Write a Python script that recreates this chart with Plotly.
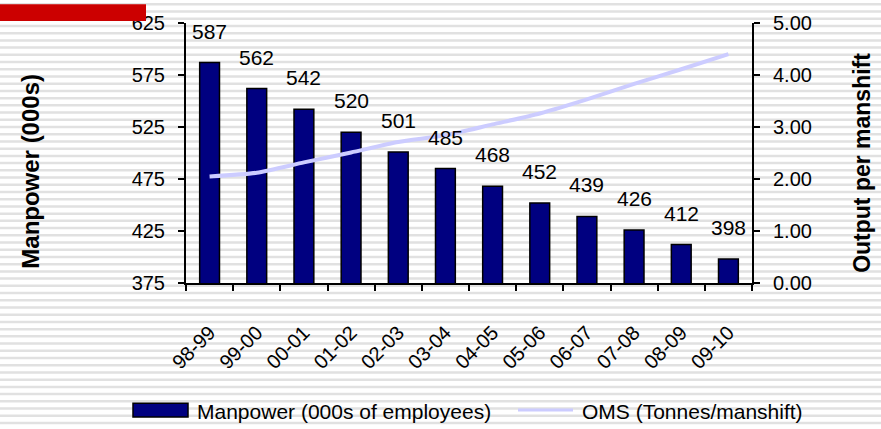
import plotly.graph_objects as go

# ---- data ----
years = ["98-99", "99-00", "00-01", "01-02", "02-03", "03-04",
         "04-05", "05-06", "06-07", "07-08", "08-09", "09-10"]
manpower = [587, 562, 542, 520, 501, 485, 468, 452, 439, 426, 412, 398]
oms = [2.05, 2.12, 2.32, 2.51, 2.71, 2.84, 3.05, 3.26, 3.53, 3.83, 4.11, 4.40]
left_ticks = [375, 425, 475, 525, 575, 625]
right_ticks = [0, 1, 2, 3, 4, 5]
bar_name = "Manpower (000s of employees)"
line_name = "OMS (Tonnes/manshift)"

FONT = "Liberation Sans, Arial, sans-serif"
NAVY = "#000080"
LAV = "#CCCCFF"

fig = go.Figure()
fig.add_trace(go.Bar(x=years, y=manpower, name=bar_name,
                     marker=dict(color=NAVY, line=dict(color="black", width=1.5)),
                     yaxis="y", showlegend=False))
fig.add_trace(go.Scatter(x=years, y=oms, name=line_name, mode="lines",
                         line=dict(color=LAV, width=4, shape="spline", smoothing=0.6),
                         yaxis="y2", showlegend=False))

# geometry helpers (plot area in px)
W, H = 881, 429
L, R, T, B = 186, 129, 19, 146
PW, PH = W - L - R, H - T - B


def px(x):
    return (x - L) / PW


def py(y):
    return (H - B - y) / PH


shapes = []
# striped background
k = 0
while 7.33 * k <= H:
    yy = 7.33 * k
    shapes.append(dict(type="line", xref="paper", yref="paper",
                       x0=px(0), x1=px(W), y0=py(yy), y1=py(yy),
                       line=dict(color="#e1e1e1", width=2.5), layer="below"))
    k += 1
# red block top-left
shapes.append(dict(type="rect", xref="paper", yref="paper",
                   x0=px(0), x1=px(146), y0=py(0), y1=py(17),
                   fillcolor="#CC0000", line=dict(width=0), layer="above"))
# manual legend symbols
shapes.append(dict(type="rect", xref="paper", yref="paper",
                   x0=px(133), x1=px(188), y0=py(405), y1=py(419),
                   fillcolor=NAVY, line=dict(color="black", width=1.5)))
shapes.append(dict(type="line", xref="paper", yref="paper",
                   x0=px(518), x1=px(573), y0=py(412), y1=py(412),
                   line=dict(color=LAV, width=3)))

annotations = []
for cat, v in zip(years, manpower):
    annotations.append(dict(x=cat, y=v, xref="x", yref="y", text=str(v),
                            showarrow=False, yanchor="bottom", yshift=18,
                            font=dict(size=21, color="black", family=FONT)))
annotations += [
    dict(x=px(195), y=py(413), xref="paper", yref="paper", text=bar_name,
         showarrow=False, xanchor="left", yanchor="middle",
         font=dict(size=21, color="black", family=FONT)),
    dict(x=px(580), y=py(413), xref="paper", yref="paper", text=line_name,
         showarrow=False, xanchor="left", yanchor="middle",
         font=dict(size=21, color="black", family=FONT)),
    dict(x=px(31), y=py(170), xref="paper", yref="paper", text="<b>Manpower (000s)</b>",
         showarrow=False, textangle=-90, xanchor="center", yanchor="middle",
         font=dict(size=24, color="black", family=FONT)),
    dict(x=px(862), y=py(161), xref="paper", yref="paper", text="<b>Output per manshift</b>",
         showarrow=False, textangle=-90, xanchor="center", yanchor="middle",
         font=dict(size=23, color="black", family=FONT)),
]

axis_common = dict(showgrid=False, zeroline=False, showline=True,
                   linecolor="black", linewidth=2, ticks="outside",
                   tickcolor="black", tickwidth=2, ticklen=6)

fig.update_layout(
    width=W, height=H,
    margin=dict(l=L, r=R, t=T, b=B, pad=0),
    paper_bgcolor="white", plot_bgcolor="rgba(0,0,0,0)",
    font=dict(family=FONT, size=20, color="black"),
    bargap=0.58,
    showlegend=False,
    xaxis=dict(**axis_common, type="category", range=[-0.5, 11.5],
               tickson="boundaries", tickangle=-45,
               tickfont=dict(size=20), ticklabelstandoff=28),
    yaxis=dict(**axis_common, range=[375, 625], tickvals=left_ticks,
               tickfont=dict(size=20), ticklabelstandoff=9),
    yaxis2=dict(**axis_common, range=[0, 5], tickvals=right_ticks,
                tickformat=".2f", overlaying="y", side="right", anchor="x",
                tickfont=dict(size=20), ticklabelstandoff=9),
    yaxis3=dict(range=[375, 625], tickvals=left_ticks, overlaying="y", anchor="x",
                side="left", showgrid=False, zeroline=False, showline=False,
                ticks="inside", ticklen=6, tickwidth=2, tickcolor="black",
                showticklabels=False),
    yaxis4=dict(range=[0, 5], tickvals=right_ticks, overlaying="y", anchor="x",
                side="right", showgrid=False, zeroline=False, showline=False,
                ticks="inside", ticklen=6, tickwidth=2, tickcolor="black",
                showticklabels=False),
    shapes=shapes,
    annotations=annotations,
)

fig.write_html("out.html", config={"displayModeBar": False},
               post_script="document.body.style.margin='0';document.body.style.padding='0';")
